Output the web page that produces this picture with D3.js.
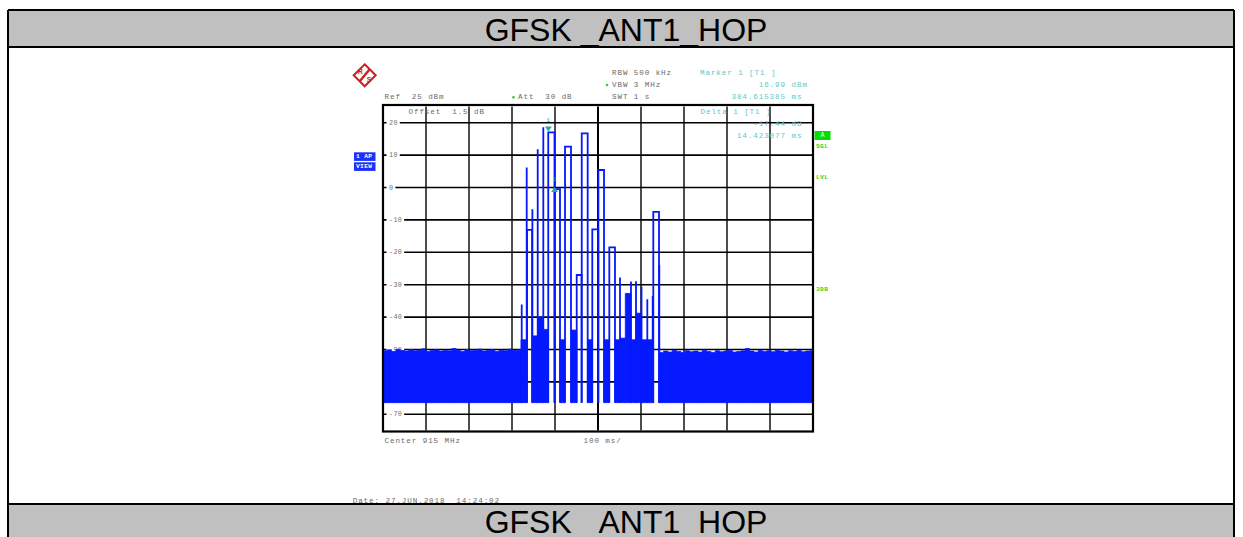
<!DOCTYPE html>
<html><head><meta charset="utf-8">
<script src="https://cdn.jsdelivr.net/npm/d3@7"></script>
<style>
html,body{margin:0;padding:0;background:#fff;}
svg{display:block;}
.mono{font-family:"Liberation Mono","DejaVu Sans Mono",monospace;white-space:pre;}
</style></head><body>
<svg id="chart" width="1243" height="537"></svg>
<script>
// ---------------- data ----------------
const titleText = "GFSK _ANT1_HOP";
const yTickValues = [20, 10, 0, -10, -20, -30, -40, -50, -60, -70];
const yTickLabels = ["20", "10", "0", "-10", "-20", "-30", "-40", "-50", "-60", "-70"];
const timeGridMs = [0, 100, 200, 300, 400, 500, 600, 700, 800, 900, 1000];
const refLevelDbm = 25;
const bottomLevelDbm = -75;
const sweepMs = 1000;
const floorBottomDbm = -66.4;

// quiet noise-floor peaks, one per 10 ms
const quietAStartMs = 0, quietAEndMs = 321;
const quietAPeakDbm = [-50.4,-50.1,-50.6,-49.9,-50.3,-50.5,-50.0,-50.4,-50.2,-49.8,-50.6,-50.3,-50.1,-50.5,-50.2,-50.4,-49.7,-50.3,-50.6,-50.0,-50.4,-50.2,-49.9,-50.5,-50.3,-50.1,-50.6,-50.2,-50.4,-49.9,-50.3,-50.2,-50.0];
const quietBStartMs = 642.6, quietBEndMs = 1000;
const quietBPeakDbm = [-50.9,-50.5,-50.8,-50.3,-50.6,-50.9,-50.4,-50.7,-50.5,-50.8,-50.2,-50.6,-50.9,-50.4,-50.7,-50.5,-50.3,-50.8,-50.6,-50.4,-49.7,-50.5,-50.8,-50.3,-50.6,-50.4,-50.7,-50.2,-50.5,-50.8,-50.4,-50.6,-50.3,-50.7,-50.5,-50.4];

// noise blocks between hops
const blockStartMs = [321, 347.4, 359.8, 372.8, 411.6, 437.2, 476.0, 514.0, 539.5, 551.2, 563.5, 576.7, 588.4, 601.2, 614.7];
const blockEndMs   = [334.2, 359.8, 372.8, 384.3, 423.3, 450.5, 486.7, 526.3, 551.2, 563.5, 576.7, 588.4, 601.2, 614.7, 628.6];
const blockTopDbm  = [-47, -45.8, -40, -43.8, -47, -44, -47, -47, -47, -46.5, -32.7, -47, -38.8, -47, -47];

// hop bursts: start, end (same = spike), level
const hopStartMs  = [322.6, 334.2, 335.0, 347.4, 359.8, 372.8, 384.3, 399.2, 423.3, 450.5, 462.2, 486.7, 500.9, 526.3, 551.2, 576.7, 588.4, 601.2, 614.7, 627.2, 628.6, 642.6];
const hopEndMs    = [322.6, 334.2, 346.8, 347.4, 359.8, 372.8, 398.8, 411.6, 437.2, 461.8, 476.0, 500.5, 514.0, 539.5, 551.2, 576.7, 588.4, 601.2, 614.7, 627.2, 641.9, 642.6];
const hopLevelDbm = [-36.1, 6.2, -13.1, -6.7, 11.8, 18.6, 17.0, -0.5, 12.6, -27.0, 16.7, -12.9, 5.4, -18.5, -27.8, -29.0, -28.9, -30.6, -34.5, -33.5, -7.5, -23.9];

const markerMs = 384.615385, markerDbm = 16.99;
const deltaMs = 14.423077, deltaDb = -17.44;

// ---------------- drawing ----------------
const svg = d3.select("#chart");
const W = 1243, H = 537;
const x = d3.scaleLinear().domain([0, sweepMs]).range([383, 813]);
const y = d3.scaleLinear().domain([bottomLevelDbm, refLevelDbm]).range([430.5, 106.5]);

// table frame
const tableL = 8, tableR = 1234;
svg.append("rect").attr("x", tableL).attr("y", 10).attr("width", tableR - tableL).attr("height", 37).attr("fill", "#c0c0c0");
svg.append("rect").attr("x", tableL).attr("y", 504).attr("width", tableR - tableL).attr("height", 40).attr("fill", "#c0c0c0");
const border = svg.append("g").attr("stroke", "#000").attr("stroke-width", 2).attr("fill", "none");
border.append("line").attr("x1", tableL).attr("x2", tableR).attr("y1", 10).attr("y2", 10);
border.append("line").attr("x1", tableL).attr("x2", tableR).attr("y1", 47).attr("y2", 47);
border.append("line").attr("x1", tableL).attr("x2", tableR).attr("y1", 504).attr("y2", 504);
border.append("line").attr("x1", tableL).attr("x2", tableL).attr("y1", 10).attr("y2", H);
border.append("line").attr("x1", tableR).attr("x2", tableR).attr("y1", 10).attr("y2", H);

svg.append("text").attr("x", 626).attr("y", 41).attr("text-anchor", "middle")
  .attr("font-family", "Liberation Sans, Arial, sans-serif").attr("font-size", 32).attr("fill", "#000").text(titleText);
svg.append("text").attr("x", 626).attr("y", 533).attr("text-anchor", "middle")
  .attr("font-family", "Liberation Sans, Arial, sans-serif").attr("font-size", 32).attr("fill", "#000").text(titleText);

// grid
const grid = svg.append("g");
grid.selectAll("line.v").data(timeGridMs.slice(1, -1)).join("line")
  .attr("x1", d => x(d)).attr("x2", d => x(d)).attr("y1", y(refLevelDbm)).attr("y2", y(bottomLevelDbm))
  .attr("stroke", d => d === 500 ? "#000" : "#3a3a3a").attr("stroke-width", d => d === 500 ? 2 : 1.8);
grid.selectAll("line.h").data(yTickValues).join("line")
  .attr("x1", x(0)).attr("x2", x(sweepMs)).attr("y1", d => y(d)).attr("y2", d => y(d))
  .attr("stroke", "#000").attr("stroke-width", 1.6);

// tick labels with white knock-out
const tl = svg.append("g");
yTickValues.forEach((v, i) => {
  const g = tl.append("g");
  const bg = g.append("rect").attr("fill", "#fff");
  const t = g.append("text").attr("class", "mono").attr("x", 389).attr("y", y(v))
    .attr("dominant-baseline", "central").attr("font-size", 6.8).attr("letter-spacing", 0.3)
    .attr("fill", "#707070").text(yTickLabels[i]);
  const b = t.node().getBBox();
  bg.attr("x", 386.5).attr("y", y(v) - 3).attr("width", b.x + b.width - 386.5 + 2).attr("height", 6);
});

// trace
const traceColor = "#0519ff";
const tr = svg.append("g");
const area = d3.area().curve(d3.curveStepAfter).x(d => x(d.t)).y0(y(floorBottomDbm)).y1(d => y(d.v));
function quiet(start, end, peaks) {
  const pts = peaks.map((v, i) => ({t: Math.min(end, start + i * 10), v}));
  pts.push({t: end, v: peaks[peaks.length - 1]});
  tr.append("path").attr("d", area(pts)).attr("fill", traceColor).attr("stroke", traceColor).attr("stroke-width", 0.8);
}
quiet(quietAStartMs, quietAEndMs, quietAPeakDbm);
quiet(quietBStartMs, quietBEndMs, quietBPeakDbm);
blockStartMs.forEach((s, i) => {
  const pts = [{t: s, v: blockTopDbm[i]}, {t: blockEndMs[i], v: blockTopDbm[i]}];
  tr.append("path").attr("d", area(pts)).attr("fill", traceColor).attr("stroke", traceColor).attr("stroke-width", 0.8);
});
hopStartMs.forEach((s, i) => {
  const p = d3.path();
  p.moveTo(x(s), y(floorBottomDbm));
  p.lineTo(x(s), y(hopLevelDbm[i]));
  p.lineTo(x(hopEndMs[i]), y(hopLevelDbm[i]));
  p.lineTo(x(hopEndMs[i]), y(floorBottomDbm));
  tr.append("path").attr("d", p.toString()).attr("fill", "none").attr("stroke", traceColor)
    .attr("stroke-width", 1.8).attr("stroke-linejoin", "miter");
});

// plot frame
svg.append("rect").attr("x", x(0)).attr("y", y(refLevelDbm) - 1.5).attr("width", x(sweepMs) - x(0))
  .attr("height", y(bottomLevelDbm) - y(refLevelDbm) + 2.5).attr("fill", "none").attr("stroke", "#000").attr("stroke-width", 2.2);

// markers
const mcol = "#2aa8a8";
const mx = x(markerMs), my = y(markerDbm);
svg.append("path").attr("d", `M${mx - 3.5},${my - 6}L${mx + 3.5},${my - 6}L${mx},${my - 1}Z`).attr("fill", mcol);
svg.append("text").attr("class", "mono").attr("x", mx).attr("y", my - 10).attr("text-anchor", "middle")
  .attr("font-size", 6).attr("fill", mcol).text("1");
const dx = x(markerMs + deltaMs), dy = y(markerDbm + deltaDb);
svg.append("path").attr("d", `M${dx - 3.5},${dy + 3}L${dx + 3.5},${dy + 3}L${dx},${dy - 2}Z`).attr("fill", mcol);
svg.append("text").attr("class", "mono").attr("x", dx).attr("y", dy - 8).attr("text-anchor", "middle")
  .attr("font-size", 6).attr("fill", mcol).text("1");

// instrument annotations
function mono(xp, yp, txt, col, anchor) {
  return svg.append("text").attr("class", "mono").attr("x", xp).attr("y", yp)
    .attr("dominant-baseline", "central").attr("font-size", 7.6).attr("letter-spacing", 0.9)
    .attr("text-anchor", anchor || "start").attr("fill", col).text(txt);
}
const gray = "#6a6a6a", cyan = "#62c6c6", green = "#2ad62a";
mono(612, 73.3, "RBW 500 kHz", gray);
mono(612, 85, "VBW 3 MHz", gray);
mono(612, 97.3, "SWT 1 s", gray);
svg.append("circle").attr("cx", 607).attr("cy", 85).attr("r", 1.3).attr("fill", green);
mono(384.5, 97.3, "Ref  25 dBm", gray);
mono(518, 97.3, "Att  30 dB", gray);
svg.append("circle").attr("cx", 513.5).attr("cy", 97.3).attr("r", 1.3).attr("fill", green);
mono(408.5, 111.8, "Offset  1.5 dB", gray);

mono(700, 73.3, "Marker 1 [T1 ]", cyan);
mono(786, 85, markerDbm.toFixed(2), cyan, "end");
mono(791.5, 85, "dBm", cyan);
mono(786, 97.3, markerMs.toFixed(6), cyan, "end");
mono(791.5, 97.3, "ms", cyan);
mono(700.5, 111.8, "Delta 1 [T1 ]", cyan);
mono(786, 124.3, deltaDb.toFixed(2), cyan, "end");
mono(791.5, 124.3, "dB", cyan);
mono(786, 136, deltaMs.toFixed(6), cyan, "end");
mono(791.5, 136, "ms", cyan);

// side badges
svg.append("rect").attr("x", 814.5).attr("y", 131).attr("width", 16).attr("height", 9).attr("fill", "#00e000");
svg.append("text").attr("class", "mono").attr("x", 822.5).attr("y", 135.8).attr("text-anchor", "middle")
  .attr("dominant-baseline", "central").attr("font-size", 6.5).attr("fill", "#fff").text("A");
[["SGL", 146], ["LVL", 177], ["3DB", 289]].forEach(d => {
  svg.append("text").attr("class", "mono").attr("x", 816).attr("y", d[1]).attr("dominant-baseline", "central")
    .attr("font-size", 6.2).attr("letter-spacing", 0.4).attr("font-weight", "bold").attr("fill", green).text(d[0]);
});
[["1 AP", 152.3], ["VIEW", 162.3]].forEach(d => {
  svg.append("rect").attr("x", 354).attr("y", d[1]).attr("width", 21.5).attr("height", 8.6).attr("fill", "#1a30ff");
  svg.append("text").attr("class", "mono").attr("x", 356).attr("y", d[1] + 4.5).attr("dominant-baseline", "central")
    .attr("font-size", 6.2).attr("letter-spacing", 0.4).attr("font-weight", "bold").attr("fill", "#fff").text(d[0]);
});

// R&S logo
const lg = svg.append("g").attr("transform", "translate(364.7,75.3)");
lg.append("path").attr("d", "M0,-11L11,0L0,11L-11,0Z").attr("fill", "none").attr("stroke", "#cc1f1f").attr("stroke-width", 2);
lg.append("line").attr("x1", 5).attr("y1", -6).attr("x2", -5).attr("y2", 6).attr("stroke", "#cc1f1f").attr("stroke-width", 2.4);
lg.append("text").attr("x", -4.5).attr("y", -1).attr("text-anchor", "middle").attr("font-family", "Liberation Sans, sans-serif")
  .attr("font-size", 7).attr("font-weight", "bold").attr("fill", "#cc1f1f").text("R");
lg.append("text").attr("x", 4.5).attr("y", 7).attr("text-anchor", "middle").attr("font-family", "Liberation Sans, sans-serif")
  .attr("font-size", 7).attr("font-weight", "bold").attr("fill", "#cc1f1f").text("S");

// bottom annotations
mono(384.5, 441, "Center 915 MHz", gray);
mono(583.5, 441, "100 ms/", gray);
svg.append("defs").append("clipPath").attr("id", "clipDate").append("rect").attr("x", 0).attr("y", 0).attr("width", W).attr("height", 503);
mono(352.7, 501, "Date: 27.JUN.2018  14:24:02", gray).attr("clip-path", "url(#clipDate)");
</script>
</body></html>
